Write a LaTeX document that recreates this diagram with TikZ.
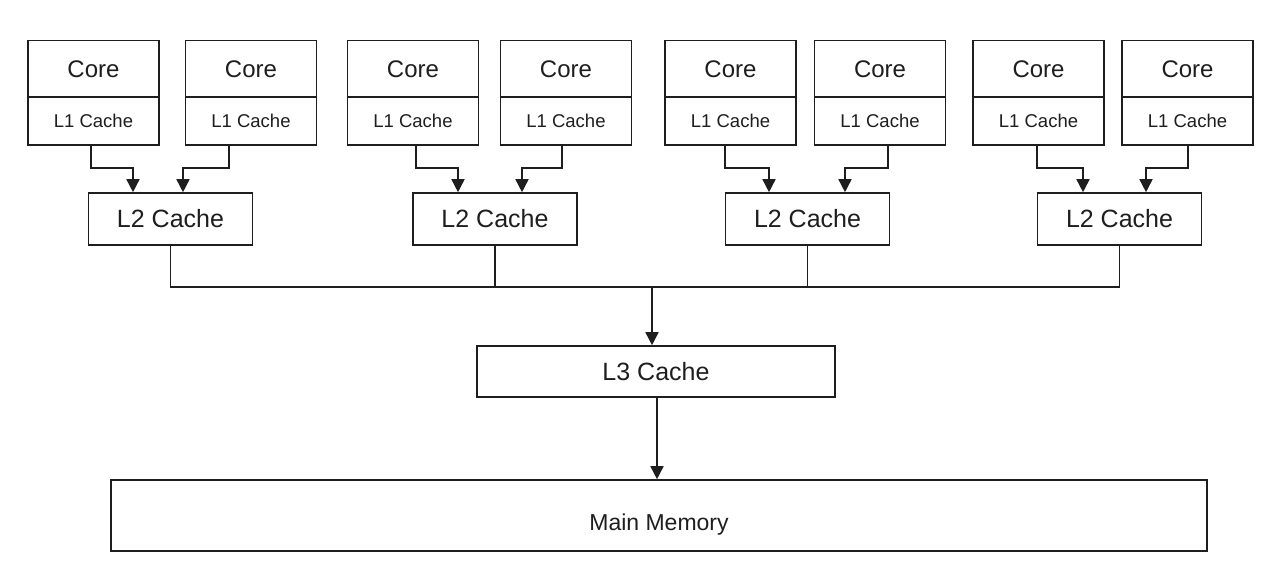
\documentclass[tikz,border=0pt]{standalone}
\usepackage{fontspec}
\setmainfont{Liberation Sans}
\usetikzlibrary{arrows.meta,calc}
\definecolor{ink}{HTML}{1E1E1E}
\begin{document}
\begin{tikzpicture}[x=1pt,y=-1pt,
  box/.style={draw=ink,line width=1.6pt,rectangle,inner sep=0pt,text=ink},
  corebox/.style={box,minimum width=131pt,minimum height=57pt,font=\fontsize{24}{26}\selectfont},
  lonebox/.style={box,minimum width=131pt,minimum height=48pt,font=\fontsize{18.5}{20}\selectfont},
  ltwobox/.style={box,minimum width=164pt,minimum height=52pt,font=\fontsize{25}{27}\selectfont},
  conn/.style={draw=ink,line width=1.6pt},
  arr/.style={conn,-{Triangle[width=13pt,length=13pt]}}
]
\useasboundingbox (0,0) rectangle (1279,583);
\fill[white] (0,0) rectangle (1279,583);

% cores and L1 caches
\foreach \i/\x in {a/93.5,b/251,c/413,d/566,e/730.5,f/880,g/1038.5,h/1187.5}{
  \node[corebox] (C\i) at (\x,69) {Core};
  \node[lonebox] (L1\i) at (\x,121) {L1 Cache};
}

% L2 caches
\node[ltwobox] (L2a) at (170.5,219) {L2 Cache};
\node[ltwobox] (L2b) at (495,219) {L2 Cache};
\node[ltwobox] (L2c) at (807.5,219) {L2 Cache};
\node[ltwobox] (L2d) at (1119.5,219) {L2 Cache};

% L3 and main memory
\node[box,minimum width=358pt,minimum height=51pt,font=\fontsize{25}{27}\selectfont] (L3) at (656,371.5) {L3 Cache};
\node[box,minimum width=1096pt,minimum height=71pt,font=\fontsize{23}{25}\selectfont,text height=30pt,text depth=0pt] (MM) at (659,515.5) {Main Memory};

% L1 -> L2 connectors
\draw[arr] ([xshift=-2.5pt]L1a.south) -- ++(0,22) -| ([xshift=-37.5pt]L2a.north);
\draw[arr] ([xshift=-22pt]L1b.south) -- ++(0,22) -| ([xshift=12.5pt]L2a.north);
\draw[arr] ([xshift=3pt]L1c.south) -- ++(0,22) -| ([xshift=-37pt]L2b.north);
\draw[arr] ([xshift=-4pt]L1d.south) -- ++(0,22) -| ([xshift=27pt]L2b.north);
\draw[arr] ([xshift=-5.5pt]L1e.south) -- ++(0,22) -| ([xshift=-38.5pt]L2c.north);
\draw[arr] ([xshift=8pt]L1f.south) -- ++(0,22) -| ([xshift=37.5pt]L2c.north);
\draw[arr] ([xshift=-1.5pt]L1g.south) -- ++(0,22) -| ([xshift=-36.5pt]L2d.north);
\draw[arr] ([xshift=0.5pt]L1h.south) -- ++(0,22) -| ([xshift=26.5pt]L2d.north);

% bus
\coordinate (bus) at (652,287);
\draw[conn] (L2a.south) -- (L2a.south |- bus) -- (L2d.south |- bus) -- (L2d.south);
\draw[conn] (L2b.south) -- (L2b.south |- bus);
\draw[conn] (L2c.south) -- (L2c.south |- bus);
\draw[arr] (bus) -- (bus |- L3.north);
\draw[arr] ([xshift=1pt]L3.south) -- ([xshift=1pt]L3.south |- MM.north);
\end{tikzpicture}
\end{document}
